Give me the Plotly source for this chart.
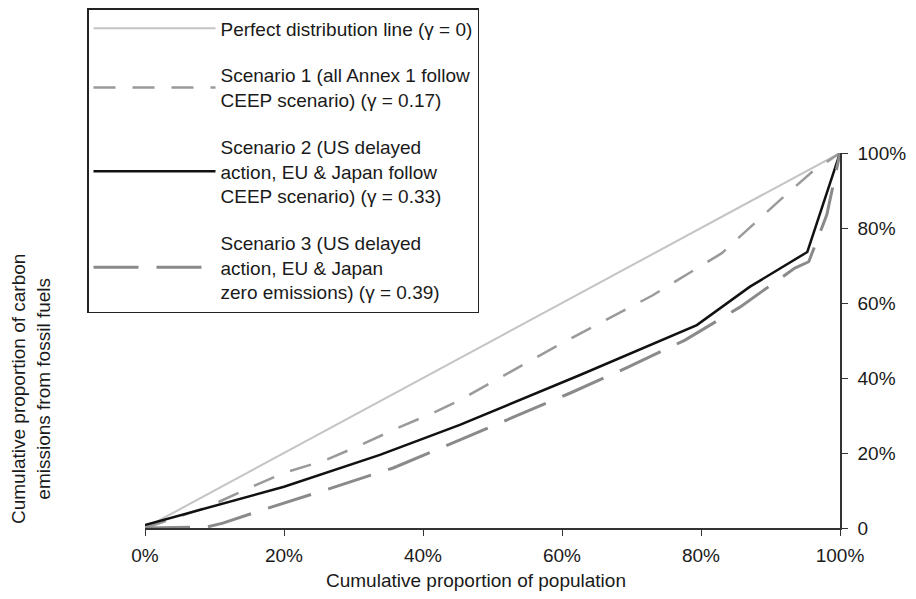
import plotly.graph_objects as go

# Data (cumulative proportions)
perfect_pop = [0.0, 1.0]
perfect_em = [0.0, 1.0]

s1_pop = [0.0, 0.09, 0.15, 0.2, 0.26, 0.31, 0.364, 0.417, 0.453, 0.6, 0.73, 0.83, 0.914, 0.96, 1.0]
s1_em = [0.0, 0.056, 0.107, 0.147, 0.181, 0.221, 0.267, 0.309, 0.341, 0.493, 0.62, 0.733, 0.875, 0.95, 1.0]

s2_pop = [0.0, 0.1, 0.2, 0.338, 0.453, 0.626, 0.794, 0.87, 0.953, 1.0]
s2_em = [0.008, 0.058, 0.11, 0.195, 0.275, 0.408, 0.541, 0.643, 0.736, 1.0]

s3_pop = [0.0, 0.09, 0.112, 0.177, 0.269, 0.357, 0.443, 0.528, 0.612, 0.695, 0.777, 0.856, 0.935, 0.955, 0.981, 1.0]
s3_em = [0.0, 0.003, 0.013, 0.053, 0.107, 0.16, 0.227, 0.293, 0.36, 0.429, 0.501, 0.589, 0.693, 0.71, 0.835, 1.0]

names = [
    "Perfect distribution line (γ = 0)",
    "Scenario 1 (all Annex 1 follow<br>CEEP scenario) (γ = 0.17)",
    "Scenario 2 (US delayed<br>action, EU & Japan follow<br>CEEP scenario) (γ = 0.33)",
    "Scenario 3 (US delayed<br>action, EU & Japan<br>zero emissions) (γ = 0.39)",
]

tick_vals = [0, 0.2, 0.4, 0.6, 0.8, 1.0]
x_tick_text = ["0%", "20%", "40%", "60%", "80%", "100%"]
y_tick_text = ["0", "20%", "40%", "60%", "80%", "100%"]

FONT = "Liberation Sans, Arial, Helvetica, sans-serif"
TXT = "#1a1a1a"
W, H = 916, 599
OFF = 8  # page body offset of the figure in the browser window

# plot area in window pixels: x 145..840, y 153..528
fig = go.Figure()
fig.add_trace(go.Scatter(x=perfect_pop, y=perfect_em, mode="lines", name=names[0],
                         legendgroup="a",
                         line=dict(color="#c4c4c4", width=2)))
fig.add_trace(go.Scatter(x=s1_pop, y=s1_em, mode="lines", name=names[1],
                         legendgroup="b",
                         line=dict(color="#9a9a9a", width=2.5, dash="22px,17px")))
fig.add_trace(go.Scatter(x=s2_pop, y=s2_em, mode="lines", name=names[2],
                         legendgroup="c",
                         line=dict(color="#111111", width=2.5)))
fig.add_trace(go.Scatter(x=s3_pop, y=s3_em, mode="lines", name=names[3],
                         legendgroup="d",
                         line=dict(color="#8a8a8a", width=3, dash="45px,18px")))

axis_common = dict(
    range=[0, 1],
    tickvals=tick_vals,
    showgrid=False,
    zeroline=False,
    showline=True,
    linecolor="#333333",
    linewidth=1.5,
    ticks="outside",
    ticklen=6,
    tickwidth=1.2,
    tickcolor="#333333",
    tickfont=dict(family=FONT, size=19, color=TXT),
    fixedrange=True,
)

fig.update_layout(
    width=W,
    height=H,
    margin=dict(l=145 - OFF, r=W - (840 - OFF), t=153 - OFF, b=H - (528 - OFF), autoexpand=False),
    paper_bgcolor="white",
    plot_bgcolor="white",
    font=dict(family=FONT, size=19, color=TXT),
    xaxis=dict(ticktext=x_tick_text, ticklabelstandoff=3, **axis_common),
    yaxis=dict(ticktext=y_tick_text, side="right", ticklabelstandoff=6, **axis_common),
    showlegend=True,
    legend=dict(
        xref="container", yref="container",
        x=(87 - OFF) / W, y=1.0, xanchor="left", yanchor="top",
        bgcolor="white", bordercolor="#222222", borderwidth=1.5,
        font=dict(family=FONT, size=19, color=TXT),
        itemwidth=122,
        traceorder="grouped",
        tracegroupgap=19,
        maxheight=420,
    ),
    annotations=[
        dict(text="Cumulative proportion of carbon<br>emissions from fossil fuels",
             xref="paper", yref="paper", x=(31 - 145) / 695, y=(528 - 389) / 375,
             xanchor="center", yanchor="middle", textangle=-90,
             showarrow=False, font=dict(family=FONT, size=19, color=TXT)),
        dict(text="Cumulative proportion of population",
             xref="paper", yref="paper", x=(476 - 145) / 695, y=(528 - 580) / 375,
             xanchor="center", yanchor="middle",
             showarrow=False, font=dict(family=FONT, size=19, color=TXT)),
    ],
)

fig.write_html("out.html")
